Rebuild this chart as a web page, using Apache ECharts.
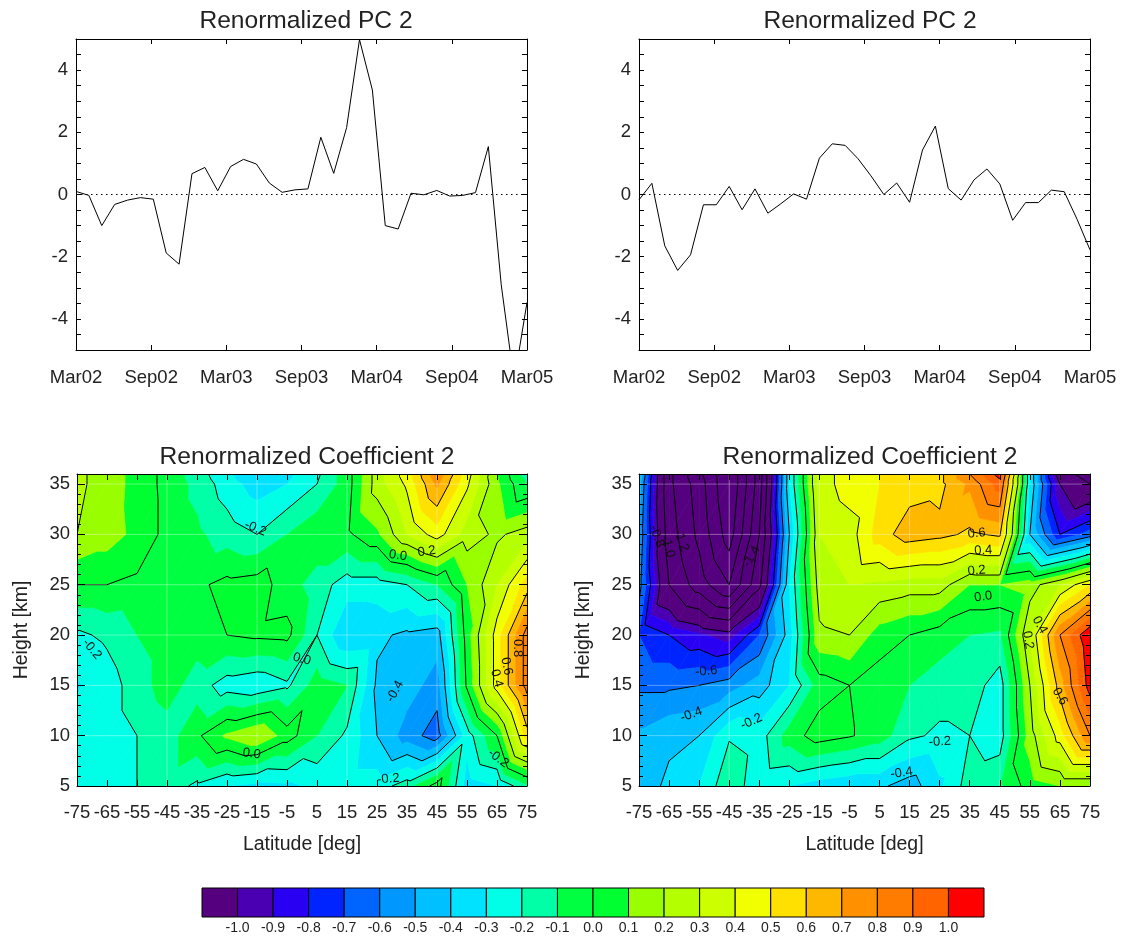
<!DOCTYPE html>
<html>
<head>
<meta charset="utf-8">
<script src="https://cdn.jsdelivr.net/npm/echarts@6/dist/echarts.min.js"></script>
<style>
  html, body { margin: 0; padding: 0; background: #fff; }
  #chart { width: 1123px; height: 939px; }
</style>
</head>
<body>
<div id="chart"></div>
<script>
// ---- Renormalized principal components, monthly, Mar 2002 .. Mar 2005 ----
const monthTicks = ['Mar02', 'Sep02', 'Mar03', 'Sep03', 'Mar04', 'Sep04', 'Mar05'];
const pcLeft = [0.10, -0.03, -1.00, -0.32, -0.18, -0.10, -0.15, -1.88, -2.24, 0.67,
                0.87, 0.12, 0.90, 1.13, 0.98, 0.37, 0.07, 0.15, 0.18, 1.84,
                0.68, 2.15, 4.98, 3.36, -1.00, -1.11, 0.04, -0.01, 0.13, -0.05,
                -0.03, 0.06, 1.54, -2.90, -6.00, -3.47];
const pcRight = [-0.17, 0.36, -1.65, -2.44, -1.94, -0.33, -0.33, 0.26, -0.49, 0.18,
                 -0.60, -0.30, 0.02, -0.15, 1.17, 1.63, 1.58, 1.15, 0.60, 0.00,
                 0.37, -0.25, 1.43, 2.20, 0.19, -0.18, 0.47, 0.82, 0.34, -0.83,
                 -0.26, -0.26, 0.14, 0.09, -0.80, -1.78];

// ---- Renormalized coefficient 2 on a latitude / height grid ----
const latitudes = [-75, -65, -55, -45, -35, -25, -15, -5, 5, 15, 25, 35, 45, 55, 65, 75];
const heights = [5, 10, 15, 20, 25, 30, 35, 36];
// rows follow `heights`, columns follow `latitudes`
const coefLeft = [
  [-0.25, -0.27, -0.20, -0.15, -0.22, -0.30, -0.33, -0.32, -0.28, -0.25, -0.25, -0.15,  0.05, -0.35, -0.30, -0.12],
  [-0.25, -0.25, -0.20, -0.15, -0.02,  0.12,  0.20,  0.05, -0.10, -0.22, -0.40, -0.55, -0.65, -0.25,  0.00,  0.55],
  [-0.31, -0.25, -0.15, -0.05, -0.15, -0.25, -0.28, -0.22, -0.05, -0.10, -0.42, -0.45, -0.55,  0.02,  0.45,  0.85],
  [-0.22, -0.18, -0.10, -0.05, -0.05,  0.00,  0.02,  0.03, -0.20, -0.40, -0.38, -0.42, -0.45,  0.05,  0.45,  0.85],
  [ 0.00,  0.00, -0.02, -0.03, -0.02,  0.03,  0.05, -0.05, -0.15, -0.25, -0.25, -0.20, -0.10,  0.10,  0.30,  0.55],
  [ 0.20,  0.15,  0.07, -0.03, -0.08, -0.15, -0.20, -0.10, -0.02, -0.02,  0.08,  0.30,  0.45,  0.25,  0.18,  0.25],
  [ 0.22,  0.16,  0.06, -0.03, -0.13, -0.25, -0.35, -0.30, -0.20, -0.05,  0.25,  0.42,  0.72,  0.42,  0.12, -0.10],
  [ 0.22,  0.16,  0.06, -0.03, -0.15, -0.28, -0.40, -0.33, -0.22, -0.05,  0.25,  0.45,  0.78,  0.45,  0.10, -0.15]
];
const coefRight = [
  [-0.45, -0.38, -0.30, -0.12, -0.28, -0.30, -0.35, -0.38, -0.38, -0.45, -0.32, -0.15, -0.12,  0.05,  0.10,  0.10],
  [-0.48, -0.42, -0.40, -0.21, -0.25, -0.05,  0.05,  0.01, -0.05, -0.18, -0.22, -0.20, -0.25,  0.15,  0.45,  0.80],
  [-0.62, -0.62, -0.60, -0.55, -0.45, -0.30, -0.05,  0.00, -0.05, -0.10, -0.15, -0.15, -0.25,  0.20,  0.65,  1.05],
  [-0.70, -0.80, -0.88, -0.95, -0.70, -0.35,  0.18,  0.20,  0.05,  0.00, -0.05, -0.10, -0.12,  0.30,  0.80,  1.10],
  [-0.55, -1.20, -1.50, -1.80, -1.25, -0.30,  0.25,  0.30,  0.28,  0.25,  0.25,  0.10,  0.10,  0.15,  0.30,  0.50],
  [-0.50, -1.30, -1.65, -2.10, -1.40, -0.40,  0.30,  0.35,  0.55,  0.66,  0.63,  0.58,  0.62, -0.40, -0.80, -0.65],
  [-0.45, -1.35, -1.70, -2.20, -1.50, -0.30,  0.35,  0.45,  0.50,  0.55,  0.57,  0.72,  0.95, -0.30, -1.00, -1.20],
  [-0.40, -1.35, -1.75, -2.20, -1.50, -0.30,  0.35,  0.45,  0.50,  0.52,  0.57,  0.80,  1.05, -0.30, -1.10, -1.30]
];

// colour bands: below -1.0, twenty 0.1-wide bands, above 1.0
const bandEdges = [-1.0, -0.9, -0.8, -0.7, -0.6, -0.5, -0.4, -0.3, -0.2, -0.1, 0.0,
                   0.1, 0.2, 0.3, 0.4, 0.5, 0.6, 0.7, 0.8, 0.9, 1.0];
const bandColors = ['#55007f', '#4a00b2', '#2a00f2', '#0024ff', '#0064ff', '#0098ff',
                    '#00c0ff', '#00e2ff', '#00ffe6', '#00ffa6', '#00ff40', '#00ff30',
                    '#99ff00', '#b4ff00', '#ccff00', '#f2ff00', '#ffe000', '#ffb800',
                    '#ff9000', '#ff7c00', '#ff6400', '#ff0000'];
const lineLevels = [-2.2, -2.0, -1.8, -1.6, -1.4, -1.2, -1.0, -0.8, -0.6, -0.4, -0.2,
                    0.0, 0.2, 0.4, 0.6, 0.8, 1.0, 1.2];
// faint triangulation mesh lines
const meshLats = [-45, -15, 15, 45];
const meshHeights = [10, 15, 20, 25, 30, 35];

// contour labels: [latitude, height, text, angle in degrees]
const labelsLeft = [
  [-15.5, 30.6, '-0.2', -22], [-70, 18.6, '-0.2', -50], [-16.8, 8.2, '0.0', -8],
  [0, 17.6, '0.0', -15], [32, 27.9, '0.0', -8], [41.6, 28.3, '0.2', 8],
  [31, 14.4, '-0.4', 60], [28.8, 5.7, '-0.2', 5], [72, 18.7, '0.8', -90],
  [68.2, 16.9, '0.6', -78], [64.9, 15.7, '0.4', -75], [65.4, 7.75, '-0.2', -38]
];
const labelsRight = [
  [-69, 29.8, '-0.8', -70], [-65.3, 28.8, '-1.0', -75], [-60.9, 29.4, '-1.2', -70],
  [-37.6, 27.8, '-1.4', 60], [-52.6, 16.4, '-0.6', 5], [-57.6, 12.1, '-0.4', 20],
  [-37.6, 11.4, '-0.2', 25], [37.3, 30.1, '0.6', 5], [39.5, 28.4, '0.4', 3],
  [37.3, 26.4, '0.2', 5], [39.5, 23.8, '0.0', 8], [58.3, 21, '0.4', -60],
  [54.4, 19.5, '0.2', -80], [65, 13.9, '0.6', -60], [25.1, 9.4, '-0.2', 3],
  [12.3, 6.3, '-0.4', 8]
];

const FONT = '"Liberation Sans", Arial, Helvetica, sans-serif';
const INK = '#222';

// ---- helpers for the filled contours (piecewise-linear on triangles) ----
function bandOf(v) {
  let k = 0;
  while (k < bandEdges.length && v >= bandEdges[k]) k++;
  return k;
}
function clipPoly(poly, level, keepAbove) {
  const out = [];
  for (let a = 0; a < poly.length; a++) {
    const A = poly[a], B = poly[(a + 1) % poly.length];
    const inA = keepAbove ? A.v >= level : A.v < level;
    const inB = keepAbove ? B.v >= level : B.v < level;
    if (inA) out.push(A);
    if (inA !== inB) {
      const t = (level - A.v) / (B.v - A.v);
      out.push({ p: [A.p[0] + t * (B.p[0] - A.p[0]), A.p[1] + t * (B.p[1] - A.p[1])], v: level });
    }
  }
  return out;
}
function cellTriangles(vals, api) {
  const i = api.value(2), j = api.value(3);
  const c = (a, b) => ({ p: api.coord([latitudes[a], heights[b]]), v: vals[b][a] });
  const q = [c(i, j), c(i + 1, j), c(i + 1, j + 1), c(i, j + 1)];
  return { i, j, q, tris: [[q[0], q[1], q[2]], [q[0], q[2], q[3]]] };
}
function contourFill(vals) {
  return function (params, api) {
    const { tris } = cellTriangles(vals, api);
    const children = [];
    tris.forEach(tri => {
      const vs = tri.map(t => t.v);
      const k0 = bandOf(Math.min(...vs)), k1 = bandOf(Math.max(...vs));
      for (let k = k0; k <= k1; k++) {
        let poly = tri;
        if (k > 0) poly = clipPoly(poly, bandEdges[k - 1], true);
        if (k < bandEdges.length) poly = clipPoly(poly, bandEdges[k], false);
        if (poly.length >= 3) {
          children.push({
            type: 'polygon', silent: true,
            shape: { points: poly.map(t => t.p) },
            style: { fill: bandColors[k], stroke: bandColors[k], lineWidth: 0.7 }
          });
        }
      }
    });
    return { type: 'group', children };
  };
}
function contourLines(vals) {
  return function (params, api) {
    const { i, j, q, tris } = cellTriangles(vals, api);
    const children = [];
    const seg = (a, b, style) => children.push({
      type: 'line', silent: true,
      shape: { x1: a[0], y1: a[1], x2: b[0], y2: b[1] }, style
    });
    const mesh = { stroke: 'rgba(255,255,255,0.35)', lineWidth: 1 };
    if (meshLats.includes(latitudes[i])) seg(q[0].p, q[3].p, mesh);
    if (meshHeights.includes(heights[j])) seg(q[0].p, q[1].p, mesh);
    tris.forEach(tri => {
      lineLevels.forEach(L => {
        const pts = [];
        for (let a = 0; a < 3; a++) {
          const A = tri[a], B = tri[(a + 1) % 3];
          if ((A.v >= L) !== (B.v >= L)) {
            const t = (L - A.v) / (B.v - A.v);
            pts.push([A.p[0] + t * (B.p[0] - A.p[0]), A.p[1] + t * (B.p[1] - A.p[1])]);
          }
        }
        if (pts.length === 2) seg(pts[0], pts[1], { stroke: '#000', lineWidth: 1 });
      });
    });
    return { type: 'group', children };
  };
}
function contourLabels(list) {
  return function (params, api) {
    const L = list[params.dataIndex];
    const p = api.coord([L[0], L[1]]);
    return {
      type: 'text', silent: true, x: p[0], y: p[1], rotation: L[3] * Math.PI / 180,
      style: { text: L[2], fill: '#111', font: '13px ' + FONT, align: 'center', verticalAlign: 'middle' }
    };
  };
}

const cells = [];
for (let j = 0; j < heights.length - 1; j++) {
  for (let i = 0; i < latitudes.length - 1; i++) cells.push([latitudes[i], heights[j], i, j]);
}

// ---- axes ----
const lineStyleBlack = { color: '#000', width: 1 };
const labelStyle = (extra) => Object.assign({ show: true, color: INK, fontFamily: FONT, fontSize: 18.5 }, extra);

function timeAxis(gridIndex, pos) {
  return {
    type: 'value', gridIndex, position: pos, min: 0, max: 36, interval: 6, z: 10,
    axisLine: { show: true, onZero: false, lineStyle: lineStyleBlack },
    axisTick: { show: true, inside: true, length: 5, lineStyle: lineStyleBlack },
    splitLine: { show: false },
    axisLabel: pos === 'bottom'
      ? labelStyle({ margin: 18, formatter: v => monthTicks[Math.round(v / 6)] || '' })
      : { show: false }
  };
}
function pcAxis(gridIndex, pos) {
  return {
    type: 'value', gridIndex, position: pos, min: -5, max: 5, interval: 1, z: 10,
    axisLine: { show: true, onZero: false, lineStyle: lineStyleBlack },
    axisTick: { show: true, inside: true, length: 5, lineStyle: lineStyleBlack },
    minorTick: { show: true, splitNumber: 2, length: 5, lineStyle: lineStyleBlack },
    splitLine: { show: false }, minorSplitLine: { show: false },
    axisLabel: pos === 'left'
      ? labelStyle({ margin: 8, formatter: v => (v % 2 === 0 ? String(v) : '') })
      : { show: false }
  };
}
function latAxis(gridIndex, pos) {
  return {
    type: 'value', gridIndex, position: pos, min: -75, max: 75, interval: 10, z: 10,
    axisLine: { show: true, onZero: false, lineStyle: lineStyleBlack },
    axisTick: { show: true, inside: true, length: 6, lineStyle: lineStyleBlack },
    splitLine: { show: false },
    axisLabel: pos === 'bottom' ? labelStyle({ margin: 17 }) : { show: false },
    name: pos === 'bottom' ? 'Latitude [deg]' : '',
    nameLocation: 'middle', nameGap: 49, nameMoveOverlap: false,
    nameTextStyle: { color: INK, fontFamily: FONT, fontSize: 19.5 }
  };
}
function heightAxis(gridIndex, pos) {
  return {
    type: 'value', gridIndex, position: pos, min: 5, max: 36, interval: 5, z: 10,
    axisLine: { show: true, onZero: false, lineStyle: lineStyleBlack },
    axisTick: { show: true, inside: true, length: 8, lineStyle: lineStyleBlack },
    minorTick: { show: true, splitNumber: 5, length: 4, lineStyle: lineStyleBlack },
    splitLine: { show: false }, minorSplitLine: { show: false },
    axisLabel: pos === 'left' ? labelStyle({ margin: 7, formatter: v => (v % 5 === 0 ? String(v) : '') }) : { show: false },
    name: pos === 'left' ? 'Height [km]' : '',
    nameLocation: 'middle', nameGap: 45, nameMoveOverlap: false,
    nameTextStyle: { color: INK, fontFamily: FONT, fontSize: 19.5 }
  };
}

const monthPos = pcLeft.map((_, i) => i * 36 / (pcLeft.length - 1));
function pcSeries(values, axisIndex) {
  return {
    type: 'line', xAxisIndex: axisIndex, yAxisIndex: axisIndex,
    data: values.map((v, i) => [monthPos[i], v]),
    showSymbol: false, clip: true, z: 3,
    lineStyle: { color: '#000', width: 1 },
    markLine: {
      silent: true, symbol: 'none', label: { show: false },
      lineStyle: { color: '#000', width: 1, type: [1.5, 3.5] },
      data: [{ yAxis: 0 }]
    }
  };
}
function contourSeries(vals, labels, axisIndex) {
  return [
    { type: 'custom', xAxisIndex: axisIndex, yAxisIndex: axisIndex, data: cells,
      renderItem: contourFill(vals), clip: true, silent: true, z: 2 },
    { type: 'custom', xAxisIndex: axisIndex, yAxisIndex: axisIndex, data: cells,
      renderItem: contourLines(vals), clip: true, silent: true, z: 3 },
    { type: 'custom', xAxisIndex: axisIndex, yAxisIndex: axisIndex,
      data: labels.map(l => [l[0], l[1]]),
      renderItem: contourLabels(labels), clip: true, silent: true, z: 4 }
  ];
}

const titleStyle = { fontSize: 24.6, fontWeight: 'normal', color: INK, fontFamily: FONT };
const option = {
  animation: false,
  backgroundColor: '#fff',
  title: [
    { text: 'Renormalized PC 2', left: 301, top: 4, textAlign: 'center', textStyle: titleStyle },
    { text: 'Renormalized PC 2', left: 865, top: 4, textAlign: 'center', textStyle: titleStyle },
    { text: 'Renormalized Coefficient 2', left: 302, top: 440, textAlign: 'center', textStyle: titleStyle },
    { text: 'Renormalized Coefficient 2', left: 865, top: 440, textAlign: 'center', textStyle: titleStyle }
  ],
  grid: [
    { left: 76, top: 39, width: 451, height: 311, outerBoundsMode: 'none', containLabel: false },
    { left: 639, top: 39, width: 451, height: 311, outerBoundsMode: 'none', containLabel: false },
    { left: 77, top: 474, width: 450, height: 312, outerBoundsMode: 'none', containLabel: false },
    { left: 639, top: 474, width: 451, height: 312, outerBoundsMode: 'none', containLabel: false },
    { left: 202, top: 888, width: 782, height: 29, outerBoundsMode: 'none', containLabel: false }
  ],
  xAxis: [
    timeAxis(0, 'bottom'), timeAxis(0, 'top'),
    timeAxis(1, 'bottom'), timeAxis(1, 'top'),
    latAxis(2, 'bottom'), latAxis(2, 'top'),
    latAxis(3, 'bottom'), latAxis(3, 'top'),
    {
      type: 'value', gridIndex: 4, min: 0, max: bandColors.length, interval: 1,
      axisLine: { show: false }, axisTick: { show: false }, splitLine: { show: false },
      axisLabel: {
        show: true, margin: 4, color: INK, fontFamily: FONT, fontSize: 14,
        formatter: v => (v >= 1 && v <= bandEdges.length ? bandEdges[v - 1].toFixed(1) : '')
      }
    }
  ],
  yAxis: [
    pcAxis(0, 'left'), pcAxis(0, 'right'),
    pcAxis(1, 'left'), pcAxis(1, 'right'),
    heightAxis(2, 'left'), heightAxis(2, 'right'),
    heightAxis(3, 'left'), heightAxis(3, 'right'),
    { type: 'value', gridIndex: 4, min: 0, max: 1, show: false }
  ],
  series: [
    pcSeries(pcLeft, 0),
    pcSeries(pcRight, 2),
    ...contourSeries(coefLeft, labelsLeft, 4),
    ...contourSeries(coefRight, labelsRight, 6),
    {
      type: 'custom', xAxisIndex: 8, yAxisIndex: 8,
      data: bandColors.map((c, k) => [k, 0]),
      renderItem: function (params, api) {
        const k = api.value(0);
        const a = api.coord([k, 1]), b = api.coord([k + 1, 0]);
        return {
          type: 'rect', silent: true,
          shape: { x: a[0], y: a[1], width: b[0] - a[0], height: b[1] - a[1] },
          style: { fill: bandColors[k], stroke: '#000', lineWidth: 1 }
        };
      }
    }
  ]
};

const chart = echarts.init(document.getElementById('chart'), null, { width: 1123, height: 939 });
chart.setOption(option);
</script>
</body>
</html>
